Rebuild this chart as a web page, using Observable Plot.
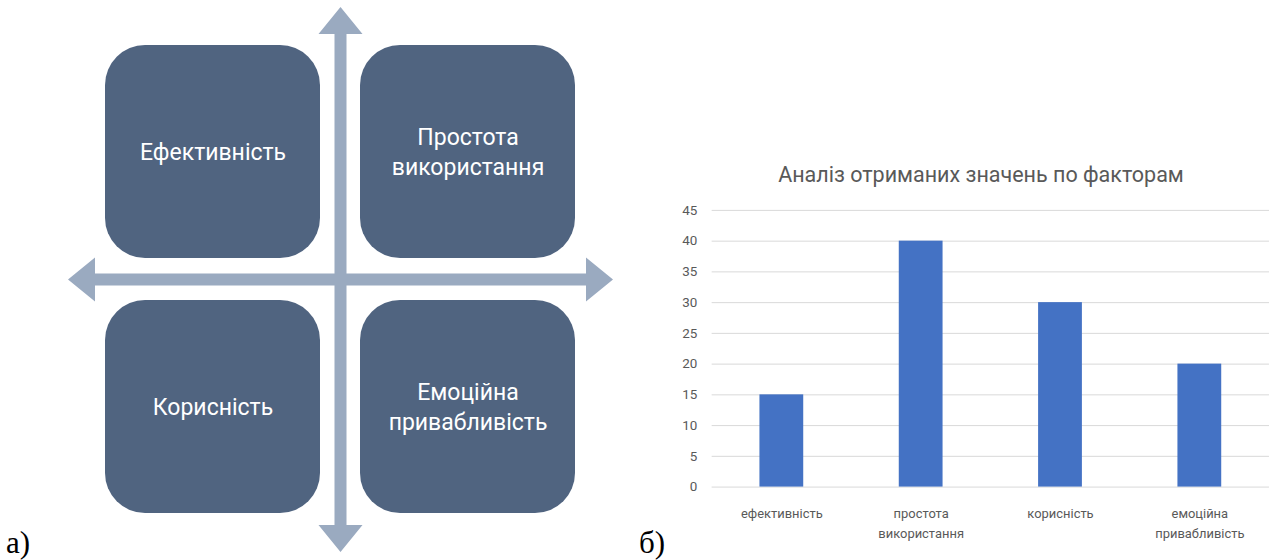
<!DOCTYPE html>
<html>
<head>
<meta charset="utf-8">
<script src="https://cdn.jsdelivr.net/npm/d3@7"></script>
<script src="https://cdn.jsdelivr.net/npm/@observablehq/plot@0.6"></script>
<style>
  html, body { margin: 0; padding: 0; background: #fff; overflow: hidden; }
  #wrap { position: relative; width: 1269px; height: 560px; overflow: hidden; }
  .abs { position: absolute; }
  .tag { font-family: "Liberation Serif", "Times New Roman", serif; font-size: 31px; color: #000; line-height: normal; white-space: nowrap; }
  #title { left: 700px; width: 562px; top: 162px; text-align: center; font-family: Roboto, sans-serif; font-size: 21.5px; color: #595959; line-height: normal; white-space: nowrap; }
</style>
</head>
<body>
<div id="wrap">
  <div id="left" class="abs" style="left:0;top:0;"></div>
  <div id="title" class="abs">Аналіз отриманих значень по факторам</div>
  <div id="right" class="abs" style="left:640px;top:190px;"></div>
  <div class="abs tag" style="left:6px;top:525px;">а)</div>
  <div class="abs tag" style="left:639px;top:525px;">б)</div>
</div>
<script>
// ---- Diagram (а) data ----
const quadrantLabels = ["Ефективність", "Простота\nвикористання", "Корисність", "Емоційна\nпривабливість"];
const quadrantCols = ["left", "right", "left", "right"];
const quadrantRows = ["top", "top", "bottom", "bottom"];
const axisRotations = [0, 90]; // vertical and horizontal double arrows

// ---- Bar chart (б) data ----
const factors = ["ефективність", "простота\nвикористання", "корисність", "емоційна\nпривабливість"];
const factorValues = [15, 40, 30, 20];
const yTicks = [0, 5, 10, 15, 20, 25, 30, 35, 40, 45];

const quadrants = quadrantLabels.map((label, i) => ({label, col: quadrantCols[i], row: quadrantRows[i]}));
const bars = factors.map((factor, i) => ({factor, value: factorValues[i]}));

// double-headed arrow shape for Plot.vector
const doubleArrow = {
  draw(ctx, l) {
    const hl = 27, hw = 22, sw = 6;
    ctx.moveTo(0, 0);
    ctx.lineTo(hw, -hl);
    ctx.lineTo(sw, -hl);
    ctx.lineTo(sw, -(l - hl));
    ctx.lineTo(hw, -(l - hl));
    ctx.lineTo(0, -l);
    ctx.lineTo(-hw, -(l - hl));
    ctx.lineTo(-sw, -(l - hl));
    ctx.lineTo(-sw, -hl);
    ctx.lineTo(-hw, -hl);
    ctx.closePath();
  }
};

const left = Plot.plot({
  width: 640,
  height: 560,
  marginLeft: 104,
  marginRight: 64,
  marginTop: 44,
  marginBottom: 46,
  style: {fontFamily: "Roboto, sans-serif", background: "transparent"},
  x: {type: "band", domain: ["left", "right"], paddingInner: 0.156, paddingOuter: 0, axis: null},
  y: {type: "band", domain: ["top", "bottom"], paddingInner: 0.164, paddingOuter: 0, axis: null},
  marks: [
    Plot.cell(quadrants, {x: "col", y: "row", fill: "#506480", rx: 40}),
    Plot.vector(axisRotations, {
      rotate: (d) => d,
      length: 545,
      anchor: "middle",
      frameAnchor: "middle",
      shape: doubleArrow,
      fill: "#9aaac0",
      stroke: "none"
    }),
    Plot.text(quadrants, {
      x: "col", y: "row", text: "label",
      fill: "white", fontSize: 23, lineHeight: 1.3, dy: -2,
      fontFamily: "Roboto, sans-serif"
    })
  ]
});
document.getElementById("left").append(left);

const right = Plot.plot({
  width: 632,
  height: 370,
  marginLeft: 72,
  marginRight: 0,
  marginTop: 20,
  marginBottom: 72,
  style: {fontFamily: "Roboto, sans-serif", color: "#595959", background: "transparent"},
  x: {domain: factors, paddingInner: 0.686, paddingOuter: 0.343},
  y: {domain: [0, 45]},
  marks: [
    Plot.ruleY(yTicks, {stroke: "#d9d9d9", strokeWidth: 1}),
    Plot.barY(bars, {x: "factor", y: "value", fill: "#4472c4"}),
    Plot.axisY({ticks: yTicks, tickSize: 0, tickPadding: 15, fontSize: 13.5, label: null}),
    Plot.axisX({tickSize: 0, tickPadding: 17, fontSize: 13, lineHeight: 1.55, label: null})
  ]
});
document.getElementById("right").append(right);
</script>
</body>
</html>
